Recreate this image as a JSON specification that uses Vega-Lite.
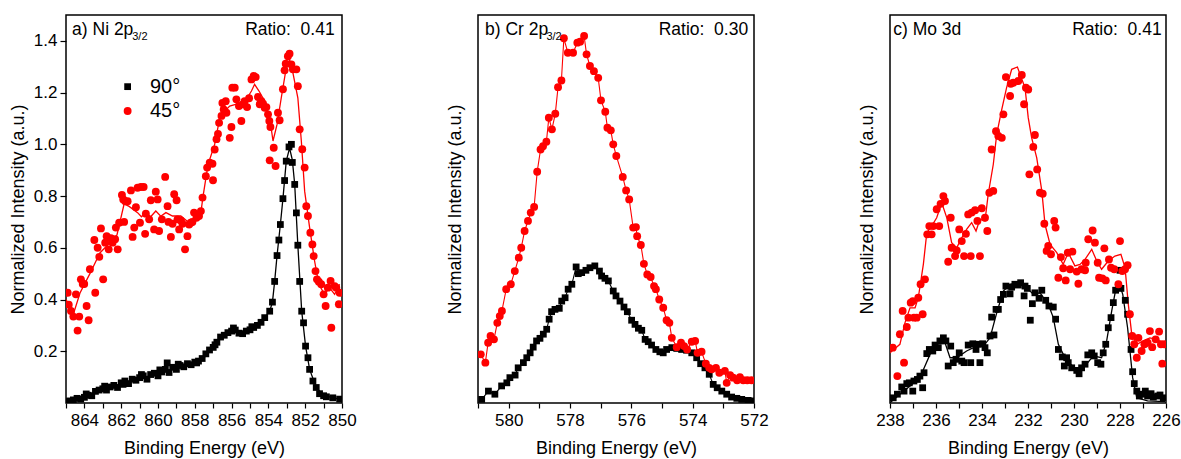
{
"$schema": "https://vega.github.io/schema/vega-lite/v6.json",
"padding": {"left": 8, "top": 14, "right": 5, "bottom": 5},
"spacing": 136,
"bounds": "flush",
"resolve": {"scale": {"x": "independent", "y": "independent"}},
"config": {
  "font": "Liberation Sans",
  "view": {"stroke": "black", "strokeWidth": 1.5},
  "axis": {"labelFont": "Liberation Sans", "titleFont": "Liberation Sans", "labelFontSize": 17, "titleFontSize": 18, "titleFontWeight": "normal", "labelColor": "black", "titleColor": "black", "tickColor": "black", "domain": false, "grid": false, "tickSize": 5, "tickWidth": 1.2},
  "text": {"font": "Liberation Sans", "color": "black"}
},
"datasets": {
  "a_pts": [
    {"energy":865.0,"intensity":0.005,"angle":"90°"},{"energy":864.9,"intensity":0.0,"angle":"90°"},{"energy":864.8,"intensity":0.008,"angle":"90°"},{"energy":864.6,"intensity":0.012,"angle":"90°"},{"energy":864.4,"intensity":0.018,"angle":"90°"},{"energy":864.2,"intensity":0.015,"angle":"90°"},{"energy":864.0,"intensity":0.022,"angle":"90°"},{"energy":863.9,"intensity":0.035,"angle":"90°"},{"energy":863.8,"intensity":0.03,"angle":"90°"},{"energy":863.6,"intensity":0.028,"angle":"90°"},{"energy":863.4,"intensity":0.045,"angle":"90°"},{"energy":863.2,"intensity":0.05,"angle":"90°"},{"energy":863.0,"intensity":0.055,"angle":"90°"},{"energy":862.9,"intensity":0.065,"angle":"90°"},{"energy":862.8,"intensity":0.05,"angle":"90°"},{"energy":862.6,"intensity":0.062,"angle":"90°"},{"energy":862.4,"intensity":0.068,"angle":"90°"},{"energy":862.2,"intensity":0.06,"angle":"90°"},{"energy":862.0,"intensity":0.078,"angle":"90°"},{"energy":861.9,"intensity":0.072,"angle":"90°"},{"energy":861.8,"intensity":0.085,"angle":"90°"},{"energy":861.6,"intensity":0.075,"angle":"90°"},{"energy":861.4,"intensity":0.092,"angle":"90°"},{"energy":861.2,"intensity":0.088,"angle":"90°"},{"energy":861.0,"intensity":0.098,"angle":"90°"},{"energy":860.9,"intensity":0.11,"angle":"90°"},{"energy":860.8,"intensity":0.105,"angle":"90°"},{"energy":860.6,"intensity":0.092,"angle":"90°"},{"energy":860.4,"intensity":0.11,"angle":"90°"},{"energy":860.2,"intensity":0.115,"angle":"90°"},{"energy":860.0,"intensity":0.105,"angle":"90°"},{"energy":859.9,"intensity":0.128,"angle":"90°"},{"energy":859.8,"intensity":0.12,"angle":"90°"},{"energy":859.6,"intensity":0.13,"angle":"90°"},{"energy":859.5,"intensity":0.155,"angle":"90°"},{"energy":859.4,"intensity":0.118,"angle":"90°"},{"energy":859.2,"intensity":0.138,"angle":"90°"},{"energy":859.0,"intensity":0.13,"angle":"90°"},{"energy":858.9,"intensity":0.15,"angle":"90°"},{"energy":858.8,"intensity":0.145,"angle":"90°"},{"energy":858.6,"intensity":0.14,"angle":"90°"},{"energy":858.4,"intensity":0.152,"angle":"90°"},{"energy":858.2,"intensity":0.148,"angle":"90°"},{"energy":858.0,"intensity":0.158,"angle":"90°"},{"energy":857.9,"intensity":0.155,"angle":"90°"},{"energy":857.8,"intensity":0.162,"angle":"90°"},{"energy":857.6,"intensity":0.172,"angle":"90°"},{"energy":857.4,"intensity":0.19,"angle":"90°"},{"energy":857.2,"intensity":0.205,"angle":"90°"},{"energy":857.0,"intensity":0.215,"angle":"90°"},{"energy":856.9,"intensity":0.225,"angle":"90°"},{"energy":856.8,"intensity":0.235,"angle":"90°"},{"energy":856.6,"intensity":0.255,"angle":"90°"},{"energy":856.4,"intensity":0.262,"angle":"90°"},{"energy":856.2,"intensity":0.272,"angle":"90°"},{"energy":856.0,"intensity":0.278,"angle":"90°"},{"energy":855.9,"intensity":0.29,"angle":"90°"},{"energy":855.8,"intensity":0.282,"angle":"90°"},{"energy":855.6,"intensity":0.27,"angle":"90°"},{"energy":855.4,"intensity":0.268,"angle":"90°"},{"energy":855.2,"intensity":0.278,"angle":"90°"},{"energy":855.0,"intensity":0.283,"angle":"90°"},{"energy":854.9,"intensity":0.295,"angle":"90°"},{"energy":854.8,"intensity":0.292,"angle":"90°"},{"energy":854.6,"intensity":0.3,"angle":"90°"},{"energy":854.4,"intensity":0.312,"angle":"90°"},{"energy":854.2,"intensity":0.33,"angle":"90°"},{"energy":853.93,"intensity":0.355,"angle":"90°"},{"energy":853.78,"intensity":0.39,"angle":"90°"},{"energy":853.66,"intensity":0.47,"angle":"90°"},{"energy":853.53,"intensity":0.57,"angle":"90°"},{"energy":853.43,"intensity":0.63,"angle":"90°"},{"energy":853.35,"intensity":0.69,"angle":"90°"},{"energy":853.21,"intensity":0.79,"angle":"90°"},{"energy":853.12,"intensity":0.86,"angle":"90°"},{"energy":853.03,"intensity":0.935,"angle":"90°"},{"energy":852.88,"intensity":0.99,"angle":"90°"},{"energy":852.75,"intensity":1.0,"angle":"90°"},{"energy":852.70,"intensity":0.93,"angle":"90°"},{"energy":852.57,"intensity":0.845,"angle":"90°"},{"energy":852.48,"intensity":0.735,"angle":"90°"},{"energy":852.40,"intensity":0.61,"angle":"90°"},{"energy":852.30,"intensity":0.47,"angle":"90°"},{"energy":852.19,"intensity":0.355,"angle":"90°"},{"energy":852.09,"intensity":0.31,"angle":"90°"},{"energy":851.98,"intensity":0.22,"angle":"90°"},{"energy":851.85,"intensity":0.175,"angle":"90°"},{"energy":851.76,"intensity":0.13,"angle":"90°"},{"energy":851.58,"intensity":0.085,"angle":"90°"},{"energy":851.40,"intensity":0.06,"angle":"90°"},{"energy":851.22,"intensity":0.036,"angle":"90°"},{"energy":851.0,"intensity":0.028,"angle":"90°"},{"energy":850.85,"intensity":0.024,"angle":"90°"},{"energy":850.5,"intensity":0.02,"angle":"90°"},{"energy":850.13,"intensity":0.015,"angle":"90°"},
    {"energy":864.91,"intensity":0.426,"angle":"45°"},{"energy":864.85,"intensity":0.38,"angle":"45°"},{"energy":864.73,"intensity":0.356,"angle":"45°"},{"energy":864.6,"intensity":0.334,"angle":"45°"},{"energy":864.46,"intensity":0.42,"angle":"45°"},{"energy":864.37,"intensity":0.28,"angle":"45°"},{"energy":864.28,"intensity":0.334,"angle":"45°"},{"energy":864.19,"intensity":0.478,"angle":"45°"},{"energy":864.09,"intensity":0.46,"angle":"45°"},{"energy":864.01,"intensity":0.46,"angle":"45°"},{"energy":863.88,"intensity":0.375,"angle":"45°"},{"energy":863.77,"intensity":0.32,"angle":"45°"},{"energy":863.7,"intensity":0.517,"angle":"45°"},{"energy":863.41,"intensity":0.426,"angle":"45°"},{"energy":863.46,"intensity":0.63,"angle":"45°"},{"energy":863.28,"intensity":0.6,"angle":"45°"},{"energy":863.19,"intensity":0.565,"angle":"45°"},{"energy":863.1,"intensity":0.675,"angle":"45°"},{"energy":862.98,"intensity":0.478,"angle":"45°"},{"energy":862.87,"intensity":0.62,"angle":"45°"},{"energy":862.79,"intensity":0.645,"angle":"45°"},{"energy":862.68,"intensity":0.594,"angle":"45°"},{"energy":862.56,"intensity":0.637,"angle":"45°"},{"energy":862.47,"intensity":0.62,"angle":"45°"},{"energy":862.33,"intensity":0.633,"angle":"45°"},{"energy":862.29,"intensity":0.678,"angle":"45°"},{"energy":862.19,"intensity":0.594,"angle":"45°"},{"energy":862.11,"intensity":0.697,"angle":"45°"},{"energy":861.96,"intensity":0.804,"angle":"45°"},{"energy":861.89,"intensity":0.787,"angle":"45°"},{"energy":861.78,"intensity":0.78,"angle":"45°"},{"energy":861.84,"intensity":0.7,"angle":"45°"},{"energy":861.65,"intensity":0.78,"angle":"45°"},{"energy":861.47,"intensity":0.822,"angle":"45°"},{"energy":861.38,"intensity":0.642,"angle":"45°"},{"energy":861.29,"intensity":0.678,"angle":"45°"},{"energy":861.2,"intensity":0.757,"angle":"45°"},{"energy":861.11,"intensity":0.832,"angle":"45°"},{"energy":860.98,"intensity":0.697,"angle":"45°"},{"energy":860.93,"intensity":0.835,"angle":"45°"},{"energy":860.78,"intensity":0.835,"angle":"45°"},{"energy":860.7,"intensity":0.654,"angle":"45°"},{"energy":860.66,"intensity":0.732,"angle":"45°"},{"energy":860.48,"intensity":0.71,"angle":"45°"},{"energy":860.39,"intensity":0.784,"angle":"45°"},{"energy":860.21,"intensity":0.671,"angle":"45°"},{"energy":860.12,"intensity":0.817,"angle":"45°"},{"energy":860.02,"intensity":0.787,"angle":"45°"},{"energy":859.94,"intensity":0.665,"angle":"45°"},{"energy":859.79,"intensity":0.71,"angle":"45°"},{"energy":859.61,"intensity":0.874,"angle":"45°"},{"energy":859.48,"intensity":0.761,"angle":"45°"},{"energy":859.43,"intensity":0.7,"angle":"45°"},{"energy":859.3,"intensity":0.642,"angle":"45°"},{"energy":859.21,"intensity":0.693,"angle":"45°"},{"energy":859.12,"intensity":0.807,"angle":"45°"},{"energy":858.99,"intensity":0.784,"angle":"45°"},{"energy":858.94,"intensity":0.71,"angle":"45°"},{"energy":858.85,"intensity":0.671,"angle":"45°"},{"energy":858.76,"intensity":0.706,"angle":"45°"},{"energy":858.67,"intensity":0.693,"angle":"45°"},{"energy":858.53,"intensity":0.594,"angle":"45°"},{"energy":858.4,"intensity":0.645,"angle":"45°"},{"energy":858.31,"intensity":0.69,"angle":"45°"},{"energy":858.22,"intensity":0.697,"angle":"45°"},{"energy":858.13,"intensity":0.7,"angle":"45°"},{"energy":858.04,"intensity":0.736,"angle":"45°"},{"energy":857.91,"intensity":0.716,"angle":"45°"},{"energy":857.77,"intensity":0.723,"angle":"45°"},{"energy":857.67,"intensity":0.742,"angle":"45°"},{"energy":857.58,"intensity":0.794,"angle":"45°"},{"energy":857.4,"intensity":0.877,"angle":"45°"},{"energy":857.33,"intensity":0.91,"angle":"45°"},{"energy":857.19,"intensity":0.929,"angle":"45°"},{"energy":857.04,"intensity":0.925,"angle":"45°"},{"energy":857.01,"intensity":0.861,"angle":"45°"},{"energy":856.92,"intensity":0.98,"angle":"45°"},{"energy":856.82,"intensity":1.02,"angle":"45°"},{"energy":856.74,"intensity":1.04,"angle":"45°"},{"energy":856.68,"intensity":1.083,"angle":"45°"},{"energy":856.55,"intensity":1.11,"angle":"45°"},{"energy":856.43,"intensity":1.135,"angle":"45°"},{"energy":856.5,"intensity":1.16,"angle":"45°"},{"energy":856.32,"intensity":1.167,"angle":"45°"},{"energy":856.28,"intensity":1.122,"angle":"45°"},{"energy":856.1,"intensity":1.025,"angle":"45°"},{"energy":856.01,"intensity":1.067,"angle":"45°"},{"energy":855.96,"intensity":1.219,"angle":"45°"},{"energy":855.83,"intensity":1.219,"angle":"45°"},{"energy":855.74,"intensity":1.174,"angle":"45°"},{"energy":855.6,"intensity":1.148,"angle":"45°"},{"energy":855.47,"intensity":1.09,"angle":"45°"},{"energy":855.38,"intensity":1.155,"angle":"45°"},{"energy":855.29,"intensity":1.167,"angle":"45°"},{"energy":855.16,"intensity":1.144,"angle":"45°"},{"energy":855.05,"intensity":1.178,"angle":"45°"},{"energy":854.92,"intensity":1.251,"angle":"45°"},{"energy":854.8,"intensity":1.264,"angle":"45°"},{"energy":854.69,"intensity":1.26,"angle":"45°"},{"energy":854.57,"intensity":1.183,"angle":"45°"},{"energy":854.47,"intensity":1.155,"angle":"45°"},{"energy":854.38,"intensity":1.167,"angle":"45°"},{"energy":854.29,"intensity":1.157,"angle":"45°"},{"energy":854.2,"intensity":1.141,"angle":"45°"},{"energy":854.11,"intensity":1.144,"angle":"45°"},{"energy":854.02,"intensity":1.116,"angle":"45°"},{"energy":853.95,"intensity":1.09,"angle":"45°"},{"energy":853.89,"intensity":1.067,"angle":"45°"},{"energy":853.71,"intensity":0.987,"angle":"45°"},{"energy":853.93,"intensity":0.938,"angle":"45°"},{"energy":853.61,"intensity":0.916,"angle":"45°"},{"energy":853.48,"intensity":1.122,"angle":"45°"},{"energy":853.39,"intensity":1.093,"angle":"45°"},{"energy":853.21,"intensity":1.213,"angle":"45°"},{"energy":853.12,"intensity":1.286,"angle":"45°"},{"energy":853.06,"intensity":1.312,"angle":"45°"},{"energy":852.94,"intensity":1.341,"angle":"45°"},{"energy":852.85,"intensity":1.35,"angle":"45°"},{"energy":852.75,"intensity":1.309,"angle":"45°"},{"energy":852.67,"intensity":1.29,"angle":"45°"},{"energy":852.48,"intensity":1.29,"angle":"45°"},{"energy":852.4,"intensity":1.225,"angle":"45°"},{"energy":852.3,"intensity":1.058,"angle":"45°"},{"energy":852.16,"intensity":0.981,"angle":"45°"},{"energy":852.03,"intensity":0.91,"angle":"45°"},{"energy":851.94,"intensity":0.761,"angle":"45°"},{"energy":851.85,"intensity":0.723,"angle":"45°"},{"energy":851.72,"intensity":0.658,"angle":"45°"},{"energy":851.61,"intensity":0.613,"angle":"45°"},{"energy":851.54,"intensity":0.568,"angle":"45°"},{"energy":851.44,"intensity":0.51,"angle":"45°"},{"energy":851.36,"intensity":0.478,"angle":"45°"},{"energy":851.26,"intensity":0.469,"angle":"45°"},{"energy":851.13,"intensity":0.459,"angle":"45°"},{"energy":851.0,"intensity":0.42,"angle":"45°"},{"energy":850.89,"intensity":0.375,"angle":"45°"},{"energy":850.77,"intensity":0.446,"angle":"45°"},{"energy":850.62,"intensity":0.472,"angle":"45°"},{"energy":850.58,"intensity":0.291,"angle":"45°"},{"energy":850.4,"intensity":0.452,"angle":"45°"},{"energy":850.31,"intensity":0.446,"angle":"45°"},{"energy":850.17,"intensity":0.382,"angle":"45°"},{"energy":850.13,"intensity":0.426,"angle":"45°"}
  ],
  "a_fit": [
    {"energy":865.0,"intensity":0.005,"angle":"90°"},{"energy":864.0,"intensity":0.02,"angle":"90°"},{"energy":863.0,"intensity":0.05,"angle":"90°"},{"energy":862.0,"intensity":0.075,"angle":"90°"},{"energy":861.0,"intensity":0.095,"angle":"90°"},{"energy":860.0,"intensity":0.112,"angle":"90°"},{"energy":859.0,"intensity":0.135,"angle":"90°"},{"energy":858.0,"intensity":0.155,"angle":"90°"},{"energy":857.5,"intensity":0.175,"angle":"90°"},{"energy":857.0,"intensity":0.215,"angle":"90°"},{"energy":856.5,"intensity":0.258,"angle":"90°"},{"energy":856.0,"intensity":0.278,"angle":"90°"},{"energy":855.5,"intensity":0.272,"angle":"90°"},{"energy":855.0,"intensity":0.283,"angle":"90°"},{"energy":854.5,"intensity":0.305,"angle":"90°"},{"energy":854.2,"intensity":0.33,"angle":"90°"},{"energy":853.93,"intensity":0.355,"angle":"90°"},{"energy":853.78,"intensity":0.39,"angle":"90°"},{"energy":853.66,"intensity":0.47,"angle":"90°"},{"energy":853.53,"intensity":0.57,"angle":"90°"},{"energy":853.35,"intensity":0.69,"angle":"90°"},{"energy":853.21,"intensity":0.79,"angle":"90°"},{"energy":853.03,"intensity":0.935,"angle":"90°"},{"energy":852.85,"intensity":0.985,"angle":"90°"},{"energy":852.7,"intensity":0.94,"angle":"90°"},{"energy":852.57,"intensity":0.845,"angle":"90°"},{"energy":852.4,"intensity":0.61,"angle":"90°"},{"energy":852.19,"intensity":0.355,"angle":"90°"},{"energy":851.98,"intensity":0.22,"angle":"90°"},{"energy":851.76,"intensity":0.13,"angle":"90°"},{"energy":851.4,"intensity":0.06,"angle":"90°"},{"energy":851.0,"intensity":0.028,"angle":"90°"},{"energy":850.13,"intensity":0.015,"angle":"90°"},
    {"energy":865.0,"intensity":0.4,"angle":"45°"},{"energy":864.57,"intensity":0.35,"angle":"45°"},{"energy":864.24,"intensity":0.425,"angle":"45°"},{"energy":863.7,"intensity":0.5,"angle":"45°"},{"energy":863.16,"intensity":0.58,"angle":"45°"},{"energy":862.61,"intensity":0.62,"angle":"45°"},{"energy":862.23,"intensity":0.65,"angle":"45°"},{"energy":861.84,"intensity":0.77,"angle":"45°"},{"energy":861.57,"intensity":0.76,"angle":"45°"},{"energy":861.11,"intensity":0.736,"angle":"45°"},{"energy":860.9,"intensity":0.72,"angle":"45°"},{"energy":860.66,"intensity":0.736,"angle":"45°"},{"energy":860.4,"intensity":0.72,"angle":"45°"},{"energy":860.12,"intensity":0.742,"angle":"45°"},{"energy":859.85,"intensity":0.722,"angle":"45°"},{"energy":859.57,"intensity":0.736,"angle":"45°"},{"energy":859.21,"intensity":0.723,"angle":"45°"},{"energy":858.76,"intensity":0.723,"angle":"45°"},{"energy":858.31,"intensity":0.697,"angle":"45°"},{"energy":857.95,"intensity":0.716,"angle":"45°"},{"energy":857.67,"intensity":0.736,"angle":"45°"},{"energy":857.55,"intensity":0.8,"angle":"45°"},{"energy":857.28,"intensity":0.922,"angle":"45°"},{"energy":856.92,"intensity":1.0,"angle":"45°"},{"energy":856.64,"intensity":1.103,"angle":"45°"},{"energy":856.37,"intensity":1.129,"angle":"45°"},{"energy":856.1,"intensity":1.148,"angle":"45°"},{"energy":855.74,"intensity":1.155,"angle":"45°"},{"energy":855.47,"intensity":1.157,"angle":"45°"},{"energy":855.2,"intensity":1.174,"angle":"45°"},{"energy":854.92,"intensity":1.206,"angle":"45°"},{"energy":854.75,"intensity":1.232,"angle":"45°"},{"energy":854.51,"intensity":1.206,"angle":"45°"},{"energy":854.2,"intensity":1.167,"angle":"45°"},{"energy":853.93,"intensity":1.103,"angle":"45°"},{"energy":853.75,"intensity":1.013,"angle":"45°"},{"energy":853.53,"intensity":1.077,"angle":"45°"},{"energy":853.3,"intensity":1.18,"angle":"45°"},{"energy":853.06,"intensity":1.283,"angle":"45°"},{"energy":852.85,"intensity":1.328,"angle":"45°"},{"energy":852.67,"intensity":1.277,"angle":"45°"},{"energy":852.4,"intensity":1.18,"angle":"45°"},{"energy":852.21,"intensity":1.013,"angle":"45°"},{"energy":852.03,"intensity":0.819,"angle":"45°"},{"energy":851.76,"intensity":0.678,"angle":"45°"},{"energy":851.49,"intensity":0.549,"angle":"45°"},{"energy":851.26,"intensity":0.459,"angle":"45°"},{"energy":850.95,"intensity":0.42,"angle":"45°"},{"energy":850.68,"intensity":0.446,"angle":"45°"},{"energy":850.4,"intensity":0.42,"angle":"45°"},{"energy":850.13,"intensity":0.459,"angle":"45°"}
  ],
  "a_txt": [
    {"energy":864.67,"intensity":1.421,"role":"name","text":"a) Ni 2p"},
    {"energy":861.4,"intensity":1.405,"role":"sub","text":"3/2"},
    {"energy":850.4,"intensity":1.421,"role":"ratio","text":"Ratio:\u00a0 0.41"},
    {"energy":860.44,"intensity":1.223,"role":"legend","text":"90°"},
    {"energy":860.44,"intensity":1.129,"role":"legend","text":"45°"}
  ],
  "a_key": [
    {"energy":861.65,"intensity":1.223,"angle":"90°"},
    {"energy":861.65,"intensity":1.129,"angle":"45°"}
  ],
  "b_pts": [
    {"energy":580.88,"intensity":0.014,"angle":"90°"},{"energy":580.66,"intensity":0.046,"angle":"90°"},{"energy":580.45,"intensity":0.034,"angle":"90°"},{"energy":580.23,"intensity":0.066,"angle":"90°"},{"energy":580.06,"intensity":0.078,"angle":"90°"},{"energy":579.96,"intensity":0.098,"angle":"90°"},{"energy":579.79,"intensity":0.108,"angle":"90°"},{"energy":579.69,"intensity":0.136,"angle":"90°"},{"energy":579.52,"intensity":0.156,"angle":"90°"},{"energy":579.41,"intensity":0.175,"angle":"90°"},{"energy":579.3,"intensity":0.194,"angle":"90°"},{"energy":579.2,"intensity":0.216,"angle":"90°"},{"energy":579.09,"intensity":0.24,"angle":"90°"},{"energy":578.98,"intensity":0.25,"angle":"90°"},{"energy":578.87,"intensity":0.266,"angle":"90°"},{"energy":578.76,"intensity":0.285,"angle":"90°"},{"energy":578.68,"intensity":0.324,"angle":"90°"},{"energy":578.6,"intensity":0.353,"angle":"90°"},{"energy":578.49,"intensity":0.362,"angle":"90°"},{"energy":578.35,"intensity":0.366,"angle":"90°"},{"energy":578.27,"intensity":0.394,"angle":"90°"},{"energy":578.16,"intensity":0.407,"angle":"90°"},{"energy":578.06,"intensity":0.44,"angle":"90°"},{"energy":577.94,"intensity":0.459,"angle":"90°"},{"energy":577.8,"intensity":0.526,"angle":"90°"},{"energy":577.73,"intensity":0.5,"angle":"90°"},{"energy":577.62,"intensity":0.504,"angle":"90°"},{"energy":577.48,"intensity":0.513,"angle":"90°"},{"energy":577.35,"intensity":0.523,"angle":"90°"},{"energy":577.19,"intensity":0.53,"angle":"90°"},{"energy":577.04,"intensity":0.51,"angle":"90°"},{"energy":576.97,"intensity":0.491,"angle":"90°"},{"energy":576.86,"intensity":0.482,"angle":"90°"},{"energy":576.75,"intensity":0.472,"angle":"90°"},{"energy":576.59,"intensity":0.433,"angle":"90°"},{"energy":576.5,"intensity":0.414,"angle":"90°"},{"energy":576.37,"intensity":0.394,"angle":"90°"},{"energy":576.24,"intensity":0.371,"angle":"90°"},{"energy":576.13,"intensity":0.353,"angle":"90°"},{"energy":575.99,"intensity":0.32,"angle":"90°"},{"energy":575.88,"intensity":0.304,"angle":"90°"},{"energy":575.77,"intensity":0.289,"angle":"90°"},{"energy":575.66,"intensity":0.281,"angle":"90°"},{"energy":575.55,"intensity":0.246,"angle":"90°"},{"energy":575.45,"intensity":0.237,"angle":"90°"},{"energy":575.34,"intensity":0.224,"angle":"90°"},{"energy":575.2,"intensity":0.207,"angle":"90°"},{"energy":575.07,"intensity":0.198,"angle":"90°"},{"energy":574.96,"intensity":0.194,"angle":"90°"},{"energy":574.85,"intensity":0.207,"angle":"90°"},{"energy":574.68,"intensity":0.214,"angle":"90°"},{"energy":574.52,"intensity":0.211,"angle":"90°"},{"energy":574.36,"intensity":0.207,"angle":"90°"},{"energy":574.2,"intensity":0.204,"angle":"90°"},{"energy":574.03,"intensity":0.194,"angle":"90°"},{"energy":573.87,"intensity":0.175,"angle":"90°"},{"energy":573.74,"intensity":0.152,"angle":"90°"},{"energy":573.6,"intensity":0.136,"angle":"90°"},{"energy":573.46,"intensity":0.111,"angle":"90°"},{"energy":573.33,"intensity":0.072,"angle":"90°"},{"energy":573.2,"intensity":0.059,"angle":"90°"},{"energy":573.05,"intensity":0.046,"angle":"90°"},{"energy":572.89,"intensity":0.034,"angle":"90°"},{"energy":572.73,"intensity":0.023,"angle":"90°"},{"energy":572.56,"intensity":0.018,"angle":"90°"},{"energy":572.4,"intensity":0.014,"angle":"90°"},{"energy":572.19,"intensity":0.01,"angle":"90°"},{"energy":572.05,"intensity":0.008,"angle":"90°"},
    {"energy":580.91,"intensity":0.188,"angle":"45°"},{"energy":580.76,"intensity":0.156,"angle":"45°"},{"energy":580.67,"intensity":0.233,"angle":"45°"},{"energy":580.59,"intensity":0.259,"angle":"45°"},{"energy":580.48,"intensity":0.246,"angle":"45°"},{"energy":580.37,"intensity":0.31,"angle":"45°"},{"energy":580.29,"intensity":0.336,"angle":"45°"},{"energy":580.22,"intensity":0.356,"angle":"45°"},{"energy":580.08,"intensity":0.44,"angle":"45°"},{"energy":579.93,"intensity":0.459,"angle":"45°"},{"energy":579.8,"intensity":0.51,"angle":"45°"},{"energy":579.67,"intensity":0.562,"angle":"45°"},{"energy":579.59,"intensity":0.6,"angle":"45°"},{"energy":579.48,"intensity":0.665,"angle":"45°"},{"energy":579.37,"intensity":0.704,"angle":"45°"},{"energy":579.28,"intensity":0.736,"angle":"45°"},{"energy":579.17,"intensity":0.758,"angle":"45°"},{"energy":579.07,"intensity":0.894,"angle":"45°"},{"energy":578.96,"intensity":0.98,"angle":"45°"},{"energy":578.88,"intensity":0.993,"angle":"45°"},{"energy":578.77,"intensity":1.01,"angle":"45°"},{"energy":578.69,"intensity":1.103,"angle":"45°"},{"energy":578.59,"intensity":1.058,"angle":"45°"},{"energy":578.48,"intensity":1.118,"angle":"45°"},{"energy":578.39,"intensity":1.221,"angle":"45°"},{"energy":578.28,"intensity":1.247,"angle":"45°"},{"energy":578.2,"intensity":1.41,"angle":"45°"},{"energy":578.07,"intensity":1.354,"angle":"45°"},{"energy":577.9,"intensity":1.354,"angle":"45°"},{"energy":577.76,"intensity":1.393,"angle":"45°"},{"energy":577.67,"intensity":1.397,"angle":"45°"},{"energy":577.54,"intensity":1.419,"angle":"45°"},{"energy":577.46,"intensity":1.348,"angle":"45°"},{"energy":577.35,"intensity":1.303,"angle":"45°"},{"energy":577.22,"intensity":1.283,"angle":"45°"},{"energy":577.08,"intensity":1.257,"angle":"45°"},{"energy":576.99,"intensity":1.17,"angle":"45°"},{"energy":576.85,"intensity":1.126,"angle":"45°"},{"energy":576.78,"intensity":1.064,"angle":"45°"},{"energy":576.67,"intensity":1.054,"angle":"45°"},{"energy":576.59,"intensity":1.0,"angle":"45°"},{"energy":576.49,"intensity":0.955,"angle":"45°"},{"energy":576.28,"intensity":0.874,"angle":"45°"},{"energy":576.17,"intensity":0.822,"angle":"45°"},{"energy":576.07,"intensity":0.787,"angle":"45°"},{"energy":575.94,"intensity":0.678,"angle":"45°"},{"energy":575.85,"intensity":0.68,"angle":"45°"},{"energy":575.81,"intensity":0.645,"angle":"45°"},{"energy":575.69,"intensity":0.611,"angle":"45°"},{"energy":575.59,"intensity":0.538,"angle":"45°"},{"energy":575.48,"intensity":0.497,"angle":"45°"},{"energy":575.37,"intensity":0.487,"angle":"45°"},{"energy":575.26,"intensity":0.452,"angle":"45°"},{"energy":575.2,"intensity":0.44,"angle":"45°"},{"energy":575.09,"intensity":0.4,"angle":"45°"},{"energy":574.96,"intensity":0.368,"angle":"45°"},{"energy":574.85,"intensity":0.32,"angle":"45°"},{"energy":574.76,"intensity":0.31,"angle":"45°"},{"energy":574.68,"intensity":0.252,"angle":"45°"},{"energy":574.52,"intensity":0.216,"angle":"45°"},{"energy":574.38,"intensity":0.233,"angle":"45°"},{"energy":574.28,"intensity":0.22,"angle":"45°"},{"energy":574.18,"intensity":0.207,"angle":"45°"},{"energy":574.03,"intensity":0.237,"angle":"45°"},{"energy":573.92,"intensity":0.24,"angle":"45°"},{"energy":573.84,"intensity":0.194,"angle":"45°"},{"energy":573.71,"intensity":0.198,"angle":"45°"},{"energy":573.57,"intensity":0.152,"angle":"45°"},{"energy":573.46,"intensity":0.136,"angle":"45°"},{"energy":573.38,"intensity":0.13,"angle":"45°"},{"energy":573.24,"intensity":0.136,"angle":"45°"},{"energy":573.13,"intensity":0.117,"angle":"45°"},{"energy":572.95,"intensity":0.124,"angle":"45°"},{"energy":572.89,"intensity":0.078,"angle":"45°"},{"energy":572.78,"intensity":0.108,"angle":"45°"},{"energy":572.68,"intensity":0.098,"angle":"45°"},{"energy":572.55,"intensity":0.088,"angle":"45°"},{"energy":572.46,"intensity":0.1,"angle":"45°"},{"energy":572.35,"intensity":0.088,"angle":"45°"},{"energy":572.22,"intensity":0.088,"angle":"45°"},{"energy":572.08,"intensity":0.088,"angle":"45°"}
  ],
  "b_txt": [
    {"energy":580.77,"intensity":1.421,"role":"name","text":"b) Cr 2p"},
    {"energy":578.77,"intensity":1.405,"role":"sub","text":"3/2"},
    {"energy":572.19,"intensity":1.421,"role":"ratio","text":"Ratio:\u00a0 0.30"}
  ],
  "c_pts": [
    {"energy":237.86,"intensity":0.02,"angle":"90°"},{"energy":237.68,"intensity":0.034,"angle":"90°"},{"energy":237.49,"intensity":0.062,"angle":"90°"},{"energy":237.39,"intensity":0.046,"angle":"90°"},{"energy":237.27,"intensity":0.075,"angle":"90°"},{"energy":237.16,"intensity":0.078,"angle":"90°"},{"energy":237.01,"intensity":0.046,"angle":"90°"},{"energy":236.96,"intensity":0.085,"angle":"90°"},{"energy":236.81,"intensity":0.091,"angle":"90°"},{"energy":236.7,"intensity":0.104,"angle":"90°"},{"energy":236.58,"intensity":0.059,"angle":"90°"},{"energy":236.52,"intensity":0.117,"angle":"90°"},{"energy":236.4,"intensity":0.191,"angle":"90°"},{"energy":236.29,"intensity":0.207,"angle":"90°"},{"energy":236.14,"intensity":0.201,"angle":"90°"},{"energy":236.04,"intensity":0.224,"angle":"90°"},{"energy":235.9,"intensity":0.214,"angle":"90°"},{"energy":235.83,"intensity":0.24,"angle":"90°"},{"energy":235.68,"intensity":0.252,"angle":"90°"},{"energy":235.57,"intensity":0.24,"angle":"90°"},{"energy":235.47,"intensity":0.143,"angle":"90°"},{"energy":235.36,"intensity":0.22,"angle":"90°"},{"energy":235.25,"intensity":0.156,"angle":"90°"},{"energy":235.13,"intensity":0.169,"angle":"90°"},{"energy":234.99,"intensity":0.194,"angle":"90°"},{"energy":234.88,"intensity":0.162,"angle":"90°"},{"energy":234.78,"intensity":0.156,"angle":"90°"},{"energy":234.6,"intensity":0.224,"angle":"90°"},{"energy":234.49,"intensity":0.156,"angle":"90°"},{"energy":234.4,"intensity":0.229,"angle":"90°"},{"energy":234.26,"intensity":0.207,"angle":"90°"},{"energy":234.16,"intensity":0.227,"angle":"90°"},{"energy":234.09,"intensity":0.156,"angle":"90°"},{"energy":233.97,"intensity":0.229,"angle":"90°"},{"energy":233.87,"intensity":0.214,"angle":"90°"},{"energy":233.77,"intensity":0.194,"angle":"90°"},{"energy":233.65,"intensity":0.259,"angle":"90°"},{"energy":233.48,"intensity":0.263,"angle":"90°"},{"energy":233.58,"intensity":0.332,"angle":"90°"},{"energy":233.39,"intensity":0.362,"angle":"90°"},{"energy":233.29,"intensity":0.362,"angle":"90°"},{"energy":233.19,"intensity":0.4,"angle":"90°"},{"energy":233.07,"intensity":0.42,"angle":"90°"},{"energy":232.96,"intensity":0.452,"angle":"90°"},{"energy":232.78,"intensity":0.422,"angle":"90°"},{"energy":232.71,"intensity":0.448,"angle":"90°"},{"energy":232.57,"intensity":0.459,"angle":"90°"},{"energy":232.42,"intensity":0.456,"angle":"90°"},{"energy":232.32,"intensity":0.465,"angle":"90°"},{"energy":232.17,"intensity":0.414,"angle":"90°"},{"energy":232.13,"intensity":0.452,"angle":"90°"},{"energy":232.03,"intensity":0.443,"angle":"90°"},{"energy":231.9,"intensity":0.32,"angle":"90°"},{"energy":231.81,"intensity":0.384,"angle":"90°"},{"energy":231.7,"intensity":0.426,"angle":"90°"},{"energy":231.52,"intensity":0.405,"angle":"90°"},{"energy":231.4,"intensity":0.436,"angle":"90°"},{"energy":231.23,"intensity":0.397,"angle":"90°"},{"energy":231.09,"intensity":0.375,"angle":"90°"},{"energy":230.9,"intensity":0.371,"angle":"90°"},{"energy":230.8,"intensity":0.324,"angle":"90°"},{"energy":230.68,"intensity":0.207,"angle":"90°"},{"energy":230.51,"intensity":0.178,"angle":"90°"},{"energy":230.42,"intensity":0.143,"angle":"90°"},{"energy":230.32,"intensity":0.175,"angle":"90°"},{"energy":230.25,"intensity":0.156,"angle":"90°"},{"energy":230.1,"intensity":0.136,"angle":"90°"},{"energy":229.88,"intensity":0.126,"angle":"90°"},{"energy":229.78,"intensity":0.113,"angle":"90°"},{"energy":229.67,"intensity":0.136,"angle":"90°"},{"energy":229.52,"intensity":0.15,"angle":"90°"},{"energy":229.4,"intensity":0.186,"angle":"90°"},{"energy":229.23,"intensity":0.194,"angle":"90°"},{"energy":229.12,"intensity":0.182,"angle":"90°"},{"energy":228.97,"intensity":0.156,"angle":"90°"},{"energy":228.83,"intensity":0.15,"angle":"90°"},{"energy":228.73,"intensity":0.194,"angle":"90°"},{"energy":228.62,"intensity":0.227,"angle":"90°"},{"energy":228.51,"intensity":0.291,"angle":"90°"},{"energy":228.39,"intensity":0.33,"angle":"90°"},{"energy":228.29,"intensity":0.388,"angle":"90°"},{"energy":228.19,"intensity":0.436,"angle":"90°"},{"energy":228.07,"intensity":0.446,"angle":"90°"},{"energy":228.0,"intensity":0.513,"angle":"90°"},{"energy":227.96,"intensity":0.443,"angle":"90°"},{"energy":227.77,"intensity":0.397,"angle":"90°"},{"energy":227.67,"intensity":0.343,"angle":"90°"},{"energy":227.52,"intensity":0.207,"angle":"90°"},{"energy":227.45,"intensity":0.121,"angle":"90°"},{"energy":227.38,"intensity":0.075,"angle":"90°"},{"energy":227.27,"intensity":0.046,"angle":"90°"},{"energy":227.16,"intensity":0.027,"angle":"90°"},{"energy":227.01,"intensity":0.034,"angle":"90°"},{"energy":226.9,"intensity":0.046,"angle":"90°"},{"energy":226.8,"intensity":0.027,"angle":"90°"},{"energy":226.65,"intensity":0.036,"angle":"90°"},{"energy":226.55,"intensity":0.023,"angle":"90°"},{"energy":226.36,"intensity":0.027,"angle":"90°"},{"energy":226.26,"intensity":0.031,"angle":"90°"},{"energy":226.12,"intensity":0.02,"angle":"90°"},
    {"energy":237.88,"intensity":0.214,"angle":"45°"},{"energy":237.68,"intensity":0.104,"angle":"45°"},{"energy":237.57,"intensity":0.266,"angle":"45°"},{"energy":237.45,"intensity":0.356,"angle":"45°"},{"energy":237.39,"intensity":0.156,"angle":"45°"},{"energy":237.27,"intensity":0.294,"angle":"45°"},{"energy":237.2,"intensity":0.33,"angle":"45°"},{"energy":237.1,"intensity":0.388,"angle":"45°"},{"energy":237.01,"intensity":0.394,"angle":"45°"},{"energy":236.96,"intensity":0.33,"angle":"45°"},{"energy":236.84,"intensity":0.33,"angle":"45°"},{"energy":236.77,"intensity":0.407,"angle":"45°"},{"energy":236.67,"intensity":0.459,"angle":"45°"},{"energy":236.58,"intensity":0.343,"angle":"45°"},{"energy":236.48,"intensity":0.478,"angle":"45°"},{"energy":236.38,"intensity":0.652,"angle":"45°"},{"energy":236.29,"intensity":0.684,"angle":"45°"},{"energy":236.19,"intensity":0.652,"angle":"45°"},{"energy":236.12,"intensity":0.684,"angle":"45°"},{"energy":235.97,"intensity":0.749,"angle":"45°"},{"energy":235.86,"intensity":0.684,"angle":"45°"},{"energy":235.8,"intensity":0.77,"angle":"45°"},{"energy":235.68,"intensity":0.8,"angle":"45°"},{"energy":235.61,"intensity":0.781,"angle":"45°"},{"energy":235.47,"intensity":0.546,"angle":"45°"},{"energy":235.36,"intensity":0.716,"angle":"45°"},{"energy":235.32,"intensity":0.6,"angle":"45°"},{"energy":235.17,"intensity":0.568,"angle":"45°"},{"energy":235.1,"intensity":0.59,"angle":"45°"},{"energy":234.99,"intensity":0.671,"angle":"45°"},{"energy":234.88,"intensity":0.626,"angle":"45°"},{"energy":234.78,"intensity":0.568,"angle":"45°"},{"energy":234.7,"intensity":0.654,"angle":"45°"},{"energy":234.6,"intensity":0.729,"angle":"45°"},{"energy":234.49,"intensity":0.568,"angle":"45°"},{"energy":234.45,"intensity":0.736,"angle":"45°"},{"energy":234.3,"intensity":0.745,"angle":"45°"},{"energy":234.2,"intensity":0.704,"angle":"45°"},{"energy":234.09,"intensity":0.568,"angle":"45°"},{"energy":234.01,"intensity":0.753,"angle":"45°"},{"energy":233.87,"intensity":0.716,"angle":"45°"},{"energy":233.77,"intensity":0.665,"angle":"45°"},{"energy":233.68,"intensity":0.813,"angle":"45°"},{"energy":233.51,"intensity":0.82,"angle":"45°"},{"energy":233.58,"intensity":0.98,"angle":"45°"},{"energy":233.39,"intensity":1.051,"angle":"45°"},{"energy":233.29,"intensity":1.032,"angle":"45°"},{"energy":233.14,"intensity":1.025,"angle":"45°"},{"energy":233.07,"intensity":1.116,"angle":"45°"},{"energy":232.96,"intensity":1.26,"angle":"45°"},{"energy":232.78,"intensity":1.187,"angle":"45°"},{"energy":232.75,"intensity":1.234,"angle":"45°"},{"energy":232.64,"intensity":1.238,"angle":"45°"},{"energy":232.42,"intensity":1.245,"angle":"45°"},{"energy":232.27,"intensity":1.268,"angle":"45°"},{"energy":232.17,"intensity":1.155,"angle":"45°"},{"energy":232.09,"intensity":1.219,"angle":"45°"},{"energy":231.99,"intensity":1.212,"angle":"45°"},{"energy":231.94,"intensity":0.884,"angle":"45°"},{"energy":231.77,"intensity":0.99,"angle":"45°"},{"energy":231.7,"intensity":1.036,"angle":"45°"},{"energy":231.6,"intensity":0.903,"angle":"45°"},{"energy":231.48,"intensity":0.813,"angle":"45°"},{"energy":231.36,"intensity":0.809,"angle":"45°"},{"energy":231.29,"intensity":0.693,"angle":"45°"},{"energy":231.19,"intensity":0.588,"angle":"45°"},{"energy":231.12,"intensity":0.607,"angle":"45°"},{"energy":231.0,"intensity":0.575,"angle":"45°"},{"energy":230.86,"intensity":0.704,"angle":"45°"},{"energy":230.8,"intensity":0.678,"angle":"45°"},{"energy":230.68,"intensity":0.484,"angle":"45°"},{"energy":230.57,"intensity":0.564,"angle":"45°"},{"energy":230.47,"intensity":0.521,"angle":"45°"},{"energy":230.36,"intensity":0.474,"angle":"45°"},{"energy":230.27,"intensity":0.581,"angle":"45°"},{"energy":230.17,"intensity":0.517,"angle":"45°"},{"energy":230.07,"intensity":0.585,"angle":"45°"},{"energy":229.88,"intensity":0.508,"angle":"45°"},{"energy":229.81,"intensity":0.461,"angle":"45°"},{"energy":229.67,"intensity":0.517,"angle":"45°"},{"energy":229.52,"intensity":0.513,"angle":"45°"},{"energy":229.49,"intensity":0.542,"angle":"45°"},{"energy":229.38,"intensity":0.633,"angle":"45°"},{"energy":229.19,"intensity":0.667,"angle":"45°"},{"energy":229.09,"intensity":0.62,"angle":"45°"},{"energy":228.97,"intensity":0.542,"angle":"45°"},{"energy":228.91,"intensity":0.484,"angle":"45°"},{"energy":228.77,"intensity":0.482,"angle":"45°"},{"energy":228.68,"intensity":0.598,"angle":"45°"},{"energy":228.62,"intensity":0.474,"angle":"45°"},{"energy":228.48,"intensity":0.555,"angle":"45°"},{"energy":228.39,"intensity":0.523,"angle":"45°"},{"energy":228.25,"intensity":0.517,"angle":"45°"},{"energy":228.07,"intensity":0.459,"angle":"45°"},{"energy":228.0,"intensity":0.626,"angle":"45°"},{"energy":227.9,"intensity":0.51,"angle":"45°"},{"energy":227.78,"intensity":0.517,"angle":"45°"},{"energy":227.67,"intensity":0.533,"angle":"45°"},{"energy":227.57,"intensity":0.343,"angle":"45°"},{"energy":227.47,"intensity":0.259,"angle":"45°"},{"energy":227.38,"intensity":0.227,"angle":"45°"},{"energy":227.27,"intensity":0.175,"angle":"45°"},{"energy":227.2,"intensity":0.252,"angle":"45°"},{"energy":227.06,"intensity":0.201,"angle":"45°"},{"energy":226.94,"intensity":0.227,"angle":"45°"},{"energy":226.8,"intensity":0.233,"angle":"45°"},{"energy":226.7,"intensity":0.278,"angle":"45°"},{"energy":226.6,"intensity":0.216,"angle":"45°"},{"energy":226.45,"intensity":0.246,"angle":"45°"},{"energy":226.3,"intensity":0.276,"angle":"45°"},{"energy":226.22,"intensity":0.227,"angle":"45°"},{"energy":226.16,"intensity":0.152,"angle":"45°"},{"energy":226.07,"intensity":0.227,"angle":"45°"}
  ],
  "c_fit": [
    {"energy":238.0,"intensity":0.001,"angle":"90°"},{"energy":237.57,"intensity":0.034,"angle":"90°"},{"energy":237.13,"intensity":0.066,"angle":"90°"},{"energy":236.7,"intensity":0.098,"angle":"90°"},{"energy":236.26,"intensity":0.188,"angle":"90°"},{"energy":235.83,"intensity":0.24,"angle":"90°"},{"energy":235.68,"intensity":0.252,"angle":"90°"},{"energy":235.39,"intensity":0.175,"angle":"90°"},{"energy":235.1,"intensity":0.175,"angle":"90°"},{"energy":234.67,"intensity":0.201,"angle":"90°"},{"energy":234.23,"intensity":0.22,"angle":"90°"},{"energy":233.94,"intensity":0.22,"angle":"90°"},{"energy":233.65,"intensity":0.252,"angle":"90°"},{"energy":233.36,"intensity":0.349,"angle":"90°"},{"energy":233.07,"intensity":0.433,"angle":"90°"},{"energy":232.78,"intensity":0.459,"angle":"90°"},{"energy":232.42,"intensity":0.465,"angle":"90°"},{"energy":232.06,"intensity":0.446,"angle":"90°"},{"energy":231.77,"intensity":0.42,"angle":"90°"},{"energy":231.48,"intensity":0.426,"angle":"90°"},{"energy":231.12,"intensity":0.382,"angle":"90°"},{"energy":230.9,"intensity":0.33,"angle":"90°"},{"energy":230.68,"intensity":0.227,"angle":"90°"},{"energy":230.32,"intensity":0.162,"angle":"90°"},{"energy":229.88,"intensity":0.13,"angle":"90°"},{"energy":229.52,"intensity":0.143,"angle":"90°"},{"energy":229.16,"intensity":0.182,"angle":"90°"},{"energy":228.8,"intensity":0.175,"angle":"90°"},{"energy":228.58,"intensity":0.24,"angle":"90°"},{"energy":228.36,"intensity":0.356,"angle":"90°"},{"energy":228.17,"intensity":0.446,"angle":"90°"},{"energy":228.03,"intensity":0.459,"angle":"90°"},{"energy":227.88,"intensity":0.42,"angle":"90°"},{"energy":227.67,"intensity":0.291,"angle":"90°"},{"energy":227.45,"intensity":0.098,"angle":"90°"},{"energy":227.27,"intensity":0.02,"angle":"90°"},{"energy":226.8,"intensity":0.008,"angle":"90°"},{"energy":226.04,"intensity":0.005,"angle":"90°"},
    {"energy":238.0,"intensity":0.194,"angle":"45°"},{"energy":237.57,"intensity":0.227,"angle":"45°"},{"energy":237.35,"intensity":0.31,"angle":"45°"},{"energy":237.13,"intensity":0.368,"angle":"45°"},{"energy":236.91,"intensity":0.368,"angle":"45°"},{"energy":236.77,"intensity":0.407,"angle":"45°"},{"energy":236.55,"intensity":0.536,"angle":"45°"},{"energy":236.4,"intensity":0.658,"angle":"45°"},{"energy":236.19,"intensity":0.684,"angle":"45°"},{"energy":235.97,"intensity":0.716,"angle":"45°"},{"energy":235.75,"intensity":0.774,"angle":"45°"},{"energy":235.53,"intensity":0.716,"angle":"45°"},{"energy":235.32,"intensity":0.62,"angle":"45°"},{"energy":235.1,"intensity":0.6,"angle":"45°"},{"energy":234.88,"intensity":0.639,"angle":"45°"},{"energy":234.67,"intensity":0.671,"angle":"45°"},{"energy":234.45,"intensity":0.697,"angle":"45°"},{"energy":234.26,"intensity":0.665,"angle":"45°"},{"energy":234.09,"intensity":0.71,"angle":"45°"},{"energy":233.87,"intensity":0.704,"angle":"45°"},{"energy":233.73,"intensity":0.807,"angle":"45°"},{"energy":233.51,"intensity":0.922,"angle":"45°"},{"energy":233.36,"intensity":1.039,"angle":"45°"},{"energy":233.14,"intensity":1.135,"angle":"45°"},{"energy":232.93,"intensity":1.219,"angle":"45°"},{"energy":232.71,"intensity":1.29,"angle":"45°"},{"energy":232.46,"intensity":1.299,"angle":"45°"},{"energy":232.32,"intensity":1.264,"angle":"45°"},{"energy":232.13,"intensity":1.219,"angle":"45°"},{"energy":231.99,"intensity":1.103,"angle":"45°"},{"energy":231.84,"intensity":1.025,"angle":"45°"},{"energy":231.62,"intensity":0.948,"angle":"45°"},{"energy":231.4,"intensity":0.82,"angle":"45°"},{"energy":231.26,"intensity":0.69,"angle":"45°"},{"energy":231.04,"intensity":0.613,"angle":"45°"},{"energy":230.75,"intensity":0.581,"angle":"45°"},{"energy":230.47,"intensity":0.536,"angle":"45°"},{"energy":230.25,"intensity":0.581,"angle":"45°"},{"energy":229.96,"intensity":0.53,"angle":"45°"},{"energy":229.74,"intensity":0.536,"angle":"45°"},{"energy":229.52,"intensity":0.555,"angle":"45°"},{"energy":229.23,"intensity":0.594,"angle":"45°"},{"energy":229.01,"intensity":0.549,"angle":"45°"},{"energy":228.8,"intensity":0.517,"angle":"45°"},{"energy":228.51,"intensity":0.549,"angle":"45°"},{"energy":228.22,"intensity":0.568,"angle":"45°"},{"energy":227.96,"intensity":0.575,"angle":"45°"},{"energy":227.78,"intensity":0.523,"angle":"45°"},{"energy":227.64,"intensity":0.382,"angle":"45°"},{"energy":227.49,"intensity":0.266,"angle":"45°"},{"energy":227.27,"intensity":0.227,"angle":"45°"},{"energy":226.99,"intensity":0.24,"angle":"45°"},{"energy":226.7,"intensity":0.252,"angle":"45°"},{"energy":226.4,"intensity":0.246,"angle":"45°"},{"energy":226.04,"intensity":0.227,"angle":"45°"}
  ],
  "c_txt": [
    {"energy":237.86,"intensity":1.421,"role":"name","text":"c) Mo 3d"},
    {"energy":226.19,"intensity":1.421,"role":"ratio","text":"Ratio:\u00a0 0.41"}
  ]
},
"hconcat": [
  {
    "width": 276, "height": 388,
    "encoding": {
      "x": {"field": "energy", "type": "quantitative", "title": "Binding Energy (eV)", "scale": {"domain": [850, 865], "reverse": true, "nice": false, "zero": false}, "axis": {"values": [850,851,852,853,854,855,856,857,858,859,860,861,862,863,864,865], "labelExpr": "datum.value % 2 == 0 ? datum.label : ''", "labelPadding": 4, "titlePadding": 11, "labelFlush": false}},
      "y": {"field": "intensity", "type": "quantitative", "title": "Normalized Intensity (a.u.)", "scale": {"domain": [0, 1.5], "nice": false}, "axis": {"values": [0.2,0.4,0.6,0.8,1.0,1.2,1.4], "format": ".1f", "tickSize": 6, "labelPadding": 3, "titlePadding": 6}}
    },
    "layer": [
      {"data": {"name": "a_fit"}, "mark": {"type": "line", "strokeWidth": 1.3, "clip": true}, "encoding": {"color": {"field": "angle", "type": "nominal", "scale": {"domain": ["90°","45°"], "range": ["#000000","#ff0000"]}, "legend": null}}},
      {"data": {"name": "a_pts"}, "mark": {"type": "point", "filled": true, "opacity": 1, "clip": true}, "encoding": {"color": {"field": "angle", "type": "nominal", "scale": {"domain": ["90°","45°"], "range": ["#000000","#ff0000"]}, "legend": null}, "shape": {"field": "angle", "type": "nominal", "scale": {"domain": ["90°","45°"], "range": ["square","circle"]}, "legend": null}, "size": {"field": "angle", "type": "ordinal", "scale": {"domain": ["90°","45°"], "range": [46, 62]}, "legend": null}}},
      {"data": {"name": "a_key"}, "mark": {"type": "point", "filled": true, "opacity": 1}, "encoding": {"color": {"field": "angle", "type": "nominal", "scale": {"domain": ["90°","45°"], "range": ["#000000","#ff0000"]}, "legend": null}, "shape": {"field": "angle", "type": "nominal", "scale": {"domain": ["90°","45°"], "range": ["square","circle"]}, "legend": null}, "size": {"field": "angle", "type": "ordinal", "scale": {"domain": ["90°","45°"], "range": [46, 62]}, "legend": null}}},
      {"data": {"name": "a_txt"}, "transform": [{"filter": "datum.role == 'name'"}], "mark": {"type": "text", "align": "left", "baseline": "alphabetic", "fontSize": 17.5}, "encoding": {"text": {"field": "text"}}},
      {"data": {"name": "a_txt"}, "transform": [{"filter": "datum.role == 'sub'"}], "mark": {"type": "text", "align": "left", "baseline": "alphabetic", "fontSize": 11}, "encoding": {"text": {"field": "text"}}},
      {"data": {"name": "a_txt"}, "transform": [{"filter": "datum.role == 'ratio'"}], "mark": {"type": "text", "align": "right", "baseline": "alphabetic", "fontSize": 17.5}, "encoding": {"text": {"field": "text"}}},
      {"data": {"name": "a_txt"}, "transform": [{"filter": "datum.role == 'legend'"}], "mark": {"type": "text", "align": "left", "baseline": "middle", "fontSize": 20}, "encoding": {"text": {"field": "text"}}}
    ]
  },
  {
    "width": 276, "height": 388,
    "encoding": {
      "x": {"field": "energy", "type": "quantitative", "title": "Binding Energy (eV)", "scale": {"domain": [572, 581], "reverse": true, "nice": false, "zero": false}, "axis": {"values": [572,573,574,575,576,577,578,579,580,581], "labelExpr": "datum.value % 2 == 0 ? datum.label : ''", "labelPadding": 4, "titlePadding": 11, "labelFlush": false}},
      "y": {"field": "intensity", "type": "quantitative", "title": "Normalized Intensity (a.u.)", "scale": {"domain": [0, 1.5], "nice": false}, "axis": {"ticks": false, "labels": false, "titlePadding": 14}}
    },
    "layer": [
      {"data": {"name": "b_pts"}, "mark": {"type": "line", "strokeWidth": 1.1, "clip": true}, "encoding": {"color": {"field": "angle", "type": "nominal", "scale": {"domain": ["90°","45°"], "range": ["#000000","#ff0000"]}, "legend": null}}},
      {"data": {"name": "b_pts"}, "mark": {"type": "point", "filled": true, "opacity": 1, "clip": true}, "encoding": {"color": {"field": "angle", "type": "nominal", "scale": {"domain": ["90°","45°"], "range": ["#000000","#ff0000"]}, "legend": null}, "shape": {"field": "angle", "type": "nominal", "scale": {"domain": ["90°","45°"], "range": ["square","circle"]}, "legend": null}, "size": {"field": "angle", "type": "ordinal", "scale": {"domain": ["90°","45°"], "range": [46, 62]}, "legend": null}}},
      {"data": {"name": "b_txt"}, "transform": [{"filter": "datum.role == 'name'"}], "mark": {"type": "text", "align": "left", "baseline": "alphabetic", "fontSize": 17.5}, "encoding": {"text": {"field": "text"}}},
      {"data": {"name": "b_txt"}, "transform": [{"filter": "datum.role == 'sub'"}], "mark": {"type": "text", "align": "left", "baseline": "alphabetic", "fontSize": 11}, "encoding": {"text": {"field": "text"}}},
      {"data": {"name": "b_txt"}, "transform": [{"filter": "datum.role == 'ratio'"}], "mark": {"type": "text", "align": "right", "baseline": "alphabetic", "fontSize": 17.5}, "encoding": {"text": {"field": "text"}}}
    ]
  },
  {
    "width": 276, "height": 388,
    "encoding": {
      "x": {"field": "energy", "type": "quantitative", "title": "Binding Energy (eV)", "scale": {"domain": [226, 238], "reverse": true, "nice": false, "zero": false}, "axis": {"values": [226,227,228,229,230,231,232,233,234,235,236,237,238], "labelExpr": "datum.value % 2 == 0 ? datum.label : ''", "labelPadding": 4, "titlePadding": 11, "labelFlush": false}},
      "y": {"field": "intensity", "type": "quantitative", "title": "Normalized Intensity (a.u.)", "scale": {"domain": [0, 1.5], "nice": false}, "axis": {"ticks": false, "labels": false, "titlePadding": 14}}
    },
    "layer": [
      {"data": {"name": "c_fit"}, "mark": {"type": "line", "strokeWidth": 1.3, "clip": true}, "encoding": {"color": {"field": "angle", "type": "nominal", "scale": {"domain": ["90°","45°"], "range": ["#000000","#ff0000"]}, "legend": null}}},
      {"data": {"name": "c_pts"}, "mark": {"type": "point", "filled": true, "opacity": 1, "clip": true}, "encoding": {"color": {"field": "angle", "type": "nominal", "scale": {"domain": ["90°","45°"], "range": ["#000000","#ff0000"]}, "legend": null}, "shape": {"field": "angle", "type": "nominal", "scale": {"domain": ["90°","45°"], "range": ["square","circle"]}, "legend": null}, "size": {"field": "angle", "type": "ordinal", "scale": {"domain": ["90°","45°"], "range": [46, 62]}, "legend": null}}},
      {"data": {"name": "c_txt"}, "transform": [{"filter": "datum.role == 'name'"}], "mark": {"type": "text", "align": "left", "baseline": "alphabetic", "fontSize": 17.5}, "encoding": {"text": {"field": "text"}}},
      {"data": {"name": "c_txt"}, "transform": [{"filter": "datum.role == 'ratio'"}], "mark": {"type": "text", "align": "right", "baseline": "alphabetic", "fontSize": 17.5}, "encoding": {"text": {"field": "text"}}}
    ]
  }
]
}
